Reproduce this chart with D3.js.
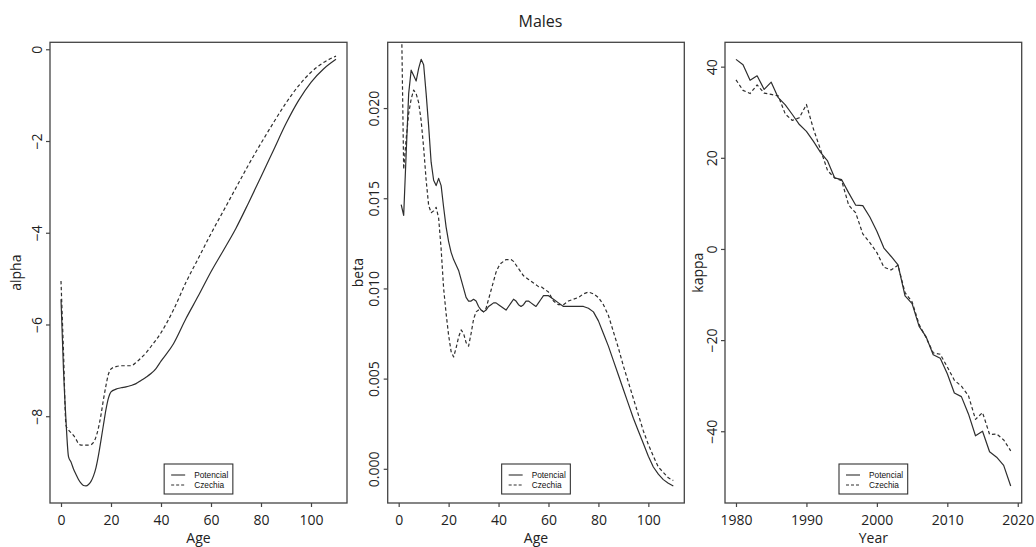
<!DOCTYPE html>
<html>
<head>
<meta charset="utf-8">
<script src="https://cdn.jsdelivr.net/npm/d3@7"></script>
<style>
  html, body { margin: 0; padding: 0; background: #fff; }
  svg { display: block; }
</style>
</head>
<body>
<svg id="chart" width="1036" height="547"></svg>
<script>
// ---- Lee-Carter parameters, males: Potencial vs Czechia ----

// alpha(x): average log mortality by age
const alphaAges = [0,1,2,3,4,5,6,7,8,9,10,11,12,13,14,15,16,17,18,19,20,22,24,26,28,30,32,34,36,38,40,45,50,55,60,65,70,75,80,85,90,95,100,105,110];
const alphaPotencial = [-5.45,-7.0,-8.1,-8.88,-9.0,-9.15,-9.27,-9.38,-9.46,-9.51,-9.52,-9.49,-9.42,-9.3,-9.12,-8.85,-8.52,-8.18,-7.85,-7.6,-7.47,-7.41,-7.38,-7.36,-7.33,-7.29,-7.22,-7.15,-7.07,-6.96,-6.8,-6.42,-5.87,-5.37,-4.85,-4.38,-3.9,-3.35,-2.78,-2.2,-1.62,-1.12,-0.72,-0.43,-0.22];
const alphaCzechia   = [-5.05,-6.6,-8.2,-8.3,-8.36,-8.42,-8.5,-8.6,-8.63,-8.63,-8.63,-8.63,-8.62,-8.57,-8.45,-8.25,-7.97,-7.63,-7.33,-7.08,-6.97,-6.92,-6.9,-6.9,-6.9,-6.83,-6.73,-6.62,-6.48,-6.34,-6.18,-5.68,-5.08,-4.55,-4.02,-3.52,-3.02,-2.52,-2.05,-1.6,-1.17,-0.8,-0.5,-0.29,-0.15];

// beta(x): age sensitivity to the period index
const betaAges = [1,2,3,4,5,6,7,8,9,10,11,12,13,14,15,16,17,18,19,20,21,22,23,24,25,26,27,28,29,30,31,32,33,34,35,36,37,38,39,40,41,42,43,44,45,46,47,48,49,50,51,52,53,54,55,56,57,58,59,60,62,64,66,68,70,72,74,76,78,80,82,84,86,88,90,92,94,96,98,100,102,104,106,108,110];
const betaPotencial = [0.01465,0.01405,0.0175,0.0208,0.0221,0.0218,0.0215,0.0222,0.0227,0.0224,0.0208,0.0190,0.0170,0.0160,0.0157,0.0161,0.0157,0.0145,0.0134,0.0126,0.0120,0.0116,0.0113,0.0110,0.0105,0.0100,0.0095,0.0093,0.0093,0.0094,0.0093,0.0090,0.0088,0.0087,0.0088,0.0090,0.0091,0.0092,0.0092,0.0091,0.0090,0.0089,0.0088,0.0090,0.0092,0.0094,0.0093,0.0091,0.0090,0.0091,0.0093,0.0093,0.0092,0.0091,0.0090,0.0092,0.0094,0.0096,0.0096,0.0096,0.0094,0.0092,0.0090,0.0090,0.0090,0.0090,0.0090,0.0089,0.0087,0.0082,0.0075,0.0068,0.0060,0.0052,0.0044,0.0036,0.0028,0.0021,0.0014,0.0007,0.0001,-0.0003,-0.0006,-0.0008,-0.00095];
const betaCzechia   = [0.0262,0.0166,0.0183,0.0197,0.0205,0.0210,0.0208,0.0203,0.0193,0.0178,0.0160,0.0146,0.0142,0.0143,0.0145,0.0139,0.0122,0.0100,0.0086,0.0074,0.0065,0.0062,0.0067,0.0073,0.0077,0.0075,0.0070,0.0068,0.0075,0.0083,0.0087,0.0088,0.0088,0.0087,0.0089,0.0094,0.0099,0.0104,0.0109,0.0112,0.0114,0.0115,0.0116,0.0116,0.0116,0.0115,0.0113,0.0111,0.0109,0.0107,0.0106,0.0105,0.0104,0.0103,0.0102,0.0101,0.0101,0.0100,0.0099,0.0098,0.0093,0.0091,0.0091,0.0093,0.0094,0.0095,0.0097,0.0098,0.0097,0.0095,0.0091,0.0085,0.0076,0.0067,0.0057,0.0048,0.0039,0.0030,0.0021,0.00135,0.0007,0.0001,-0.0002,-0.0005,-0.00065];

// kappa(t): period mortality index
const years = d3.range(1980, 2020);
const kappaPotencial = [41.6,40.4,37.0,38.0,35.0,36.6,33.2,31.6,29.5,27.3,25.8,23.6,21.2,19.3,15.6,15.2,12.3,9.6,9.5,7.0,3.9,0.2,-1.6,-3.5,-10.3,-12.0,-17.0,-19.3,-23.2,-24.0,-27.4,-31.6,-32.4,-36.2,-41.0,-40.0,-44.5,-45.7,-47.5,-52.0];
const kappaCzechia   = [37.1,34.8,34.1,36.0,34.2,33.9,33.6,29.6,28.2,28.8,31.7,26.3,21.8,17.2,15.6,15.0,9.6,7.9,3.3,1.4,-0.8,-4.0,-4.6,-3.6,-9.6,-11.6,-16.6,-19.5,-22.8,-23.1,-25.9,-28.8,-30.1,-32.2,-37.4,-35.9,-40.7,-40.6,-41.9,-44.3];

// tick positions
const ageTicks = [0, 20, 40, 60, 80, 100];
const yearTicks = [1980, 1990, 2000, 2010, 2020];
const alphaTicks = [-8, -6, -4, -2, 0];
const betaTicks = [0, 0.005, 0.010, 0.015, 0.020];
const kappaTicks = [-40, -20, 0, 20, 40];
const legendLabels = ["Potencial", "Czechia"];

// ---- drawing ----
const svg = d3.select("#chart");
const INK = "#2e2e2e";
const TEXT = "#222";
const TICK_FONT = "'Open Sans', 'DejaVu Sans', sans-serif";
const LEG_FONT = "'Liberation Sans', Arial, sans-serif";
const plotTop = 42.3, plotBottom = 503;

// range extended by 4% on both sides, as in base R graphics
function padded(ext) {
  const d = (ext[1] - ext[0]) * 0.04;
  return [ext[0] - d, ext[1] + d];
}

svg.append("text")
  .attr("x", 540.5).attr("y", 26.5)
  .attr("text-anchor", "middle")
  .attr("font-family", TICK_FONT).attr("font-size", 16)
  .attr("fill", TEXT)
  .text("Males");

function drawPanel(cfg, idx) {
  const x = d3.scaleLinear().domain(cfg.xDomain).range([cfg.left, cfg.right]);
  const y = d3.scaleLinear().domain(cfg.yDomain).range([plotBottom, plotTop]);
  const g = svg.append("g");

  const clipId = "clip" + idx;
  svg.append("clipPath").attr("id", clipId)
    .append("rect")
    .attr("x", cfg.left).attr("y", plotTop)
    .attr("width", cfg.right - cfg.left).attr("height", plotBottom - plotTop);

  // series
  const lines = g.append("g").attr("clip-path", `url(#${clipId})`);
  cfg.series.forEach(s => {
    const pts = s.x.map((v, i) => [v, s.y[i]]);
    const line = d3.line().x(d => x(d[0])).y(d => y(d[1])).curve(cfg.curve || d3.curveLinear);
    lines.append("path")
      .attr("d", line(pts))
      .attr("fill", "none")
      .attr("stroke", INK)
      .attr("stroke-width", 1.2)
      .attr("stroke-linejoin", "round")
      .attr("stroke-dasharray", s.dash ? "3.5,2.5" : null);
  });

  // plot box
  g.append("rect")
    .attr("x", cfg.left).attr("y", plotTop)
    .attr("width", cfg.right - cfg.left).attr("height", plotBottom - plotTop)
    .attr("fill", "none").attr("stroke", "#444").attr("stroke-width", 1.3);

  // x axis
  const xa = g.append("g").attr("transform", `translate(0,${plotBottom})`)
    .call(d3.axisBottom(x).tickValues(cfg.xTicks).tickSize(4).tickSizeOuter(0).tickFormat(d3.format("d")));
  xa.select(".domain").remove();
  xa.selectAll(".tick line").attr("stroke", "#444").attr("stroke-width", 1.2);
  xa.selectAll(".tick text")
    .attr("y", 22).attr("dy", null)
    .attr("font-family", TICK_FONT).attr("font-size", 14).attr("fill", TEXT);

  // y axis with rotated labels
  const ya = g.append("g").attr("transform", `translate(${cfg.left},0)`)
    .call(d3.axisLeft(y).tickValues(cfg.yTicks).tickSize(4).tickSizeOuter(0).tickFormat(cfg.yFormat));
  ya.select(".domain").remove();
  ya.selectAll(".tick line").attr("stroke", "#444").attr("stroke-width", 1.2);
  ya.selectAll(".tick text")
    .attr("x", 0).attr("y", 0).attr("dy", null)
    .attr("text-anchor", "middle")
    .attr("transform", "translate(-8.5,0) rotate(-90)")
    .attr("font-family", TICK_FONT).attr("font-size", 14).attr("fill", TEXT);

  // axis titles
  g.append("text")
    .attr("x", (cfg.left + cfg.right) / 2).attr("y", 543.3)
    .attr("text-anchor", "middle")
    .attr("font-family", TICK_FONT).attr("font-size", 14).attr("fill", TEXT)
    .text(cfg.xLabel);
  g.append("text")
    .attr("transform", `translate(${cfg.yLabelX},${(plotTop + plotBottom) / 2}) rotate(-90)`)
    .attr("text-anchor", "middle")
    .attr("font-family", TICK_FONT).attr("font-size", 14).attr("fill", TEXT)
    .text(cfg.yLabel);

  // legend, bottom centre
  const lw = 68.7, lh = 30;
  const lx = (cfg.left + cfg.right) / 2 - lw / 2, ly = plotBottom - 9 - lh;
  const leg = g.append("g").attr("transform", `translate(${lx},${ly})`);
  leg.append("rect").attr("width", lw).attr("height", lh)
    .attr("fill", "#fff").attr("stroke", "#333").attr("stroke-width", 1.1);
  legendLabels.forEach((lab, i) => {
    const cy = 11 + i * 10;
    leg.append("line")
      .attr("x1", 7).attr("x2", 21).attr("y1", cy).attr("y2", cy)
      .attr("stroke", INK).attr("stroke-width", 1.1)
      .attr("stroke-dasharray", i === 1 ? "3,2" : null);
    leg.append("text")
      .attr("x", 30).attr("y", cy + 3)
      .attr("font-family", LEG_FONT).attr("font-size", 8.3).attr("fill", "#111")
      .text(lab);
  });
}

const panels = [
  {
    left: 50, right: 347,
    xDomain: padded([0, 110]), yDomain: padded(d3.extent(alphaPotencial)),
    xTicks: ageTicks, yTicks: alphaTicks, yFormat: d3.format("d"),
    xLabel: "Age", yLabel: "alpha", yLabelX: 20.5,
    curve: d3.curveMonotoneX,
    series: [
      { x: alphaAges, y: alphaPotencial, dash: false },
      { x: alphaAges, y: alphaCzechia, dash: true }
    ]
  },
  {
    left: 387.7, right: 684.3,
    xDomain: padded([0, 110]), yDomain: padded(d3.extent(betaPotencial)),
    xTicks: ageTicks, yTicks: betaTicks, yFormat: d3.format(".3f"),
    xLabel: "Age", yLabel: "beta", yLabelX: 363,
    series: [
      { x: betaAges, y: betaPotencial, dash: false },
      { x: betaAges, y: betaCzechia, dash: true }
    ]
  },
  {
    left: 725, right: 1021.7,
    xDomain: padded([1980, 2019]), yDomain: padded(d3.extent(kappaPotencial)),
    xTicks: yearTicks, yTicks: kappaTicks, yFormat: d3.format("d"),
    xLabel: "Year", yLabel: "kappa", yLabelX: 702.5,
    series: [
      { x: years, y: kappaPotencial, dash: false },
      { x: years, y: kappaCzechia, dash: true }
    ]
  }
];

panels.forEach(drawPanel);
</script>
</body>
</html>
